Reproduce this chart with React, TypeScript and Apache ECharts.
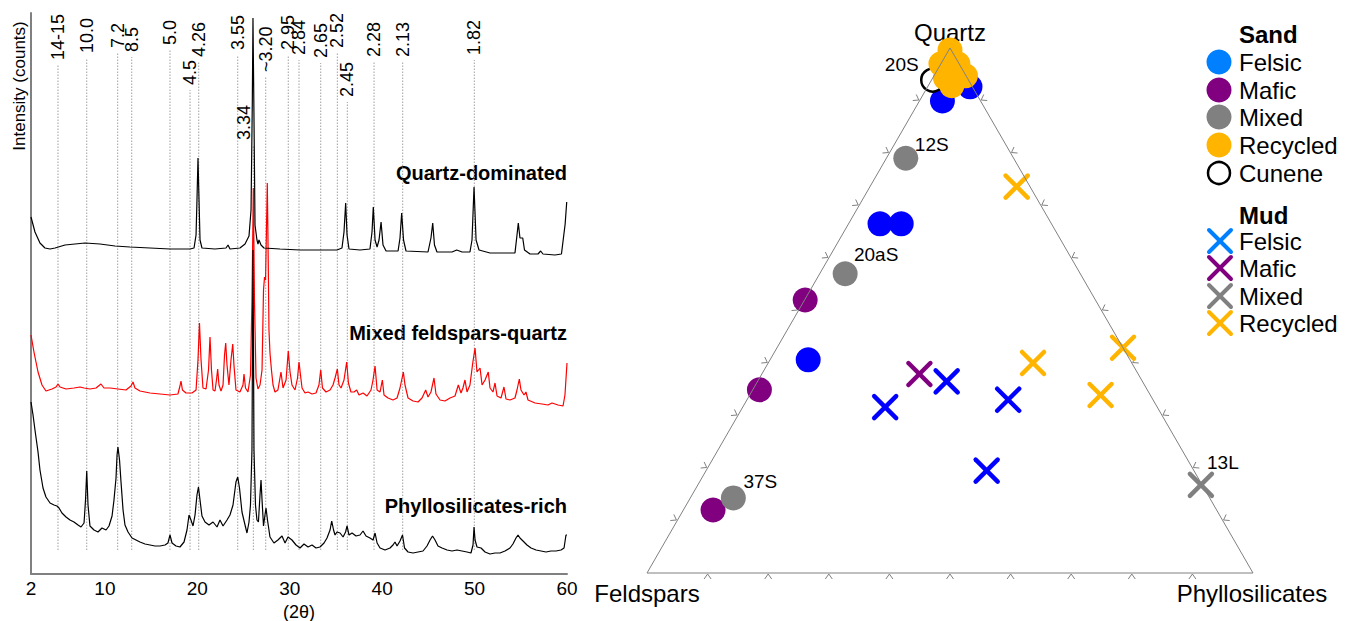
import React, { useEffect, useRef } from "react";
import * as echarts from "echarts";

const FONT = "'Liberation Sans', Arial, Helvetica, sans-serif";

// ---------------- XRD panel data ----------------
const XRD_TICKS = [2, 10, 20, 30, 40, 50, 60];

// [2θ, counts]
const QUARTZ_DOMINATED = [
  [2.0, 357], [2.43, 342], [2.97, 331], [3.51, 326], [4.06, 325], [4.6, 326], [5.68, 329], [6.76, 330], [7.84, 331],
  [9.47, 330], [11.09, 328], [12.71, 327], [14.88, 326], [17.04, 325], [19.21, 325], [19.64, 326], [19.86, 339],
  [19.96, 374], [20.07, 416], [20.18, 374], [20.29, 334], [20.5, 326], [21.91, 325], [23.1, 326], [23.32, 329],
  [23.53, 325], [24.61, 326], [25.16, 330], [25.59, 338], [25.81, 364], [25.95, 474], [26.02, 556], [26.11, 474],
  [26.24, 349], [26.45, 334], [26.56, 330], [26.67, 334], [26.89, 329], [27.21, 326], [28.94, 325], [31.11, 324],
  [33.27, 324], [35.11, 324], [35.65, 326], [35.87, 342], [36.05, 371], [36.2, 339], [36.41, 325], [37.6, 324],
  [38.68, 325], [38.9, 342], [39.04, 367], [39.23, 334], [39.45, 327], [39.66, 334], [39.88, 352], [40.09, 329],
  [40.42, 323], [41.72, 323], [41.93, 336], [42.11, 361], [42.31, 334], [42.58, 323], [44.96, 322], [45.28, 336],
  [45.47, 351], [45.66, 329], [45.93, 322], [47.56, 322], [48.07, 324], [48.64, 322], [49.5, 322], [49.72, 334],
  [49.94, 387], [50.16, 334], [50.48, 324], [51.67, 321], [53.29, 321], [54.37, 321], [54.59, 339], [54.73, 351],
  [54.91, 336], [55.21, 336], [55.4, 324], [56.0, 320], [56.86, 320], [57.15, 323], [57.4, 320], [58.7, 319],
  [59.4, 320], [59.6, 335], [59.8, 350], [59.97, 372],
];

const MIXED_FELDSPARS_QUARTZ = [
  [2.0, 239], [2.32, 222], [2.76, 202], [3.19, 189], [3.62, 183], [4.27, 185], [4.71, 187], [4.92, 190], [5.14, 187],
  [5.79, 185], [6.65, 186], [7.3, 187], [7.74, 186], [8.38, 185], [9.04, 186], [9.57, 190], [9.9, 186], [10.55, 186],
  [11.41, 185], [12.28, 184], [12.82, 188], [13.04, 192], [13.25, 186], [13.79, 183], [14.88, 181], [15.96, 180],
  [17.04, 179], [17.9, 180], [18.12, 188], [18.23, 193], [18.39, 184], [18.77, 181], [19.42, 181], [19.86, 184],
  [20.07, 214], [20.23, 251], [20.4, 214], [20.61, 186], [20.94, 185], [21.21, 204], [21.37, 237], [21.53, 204],
  [21.7, 184], [21.91, 183], [22.07, 194], [22.2, 205], [22.34, 189], [22.56, 183], [22.78, 189], [22.94, 219],
  [23.07, 231], [23.21, 209], [23.42, 189], [23.64, 214], [23.83, 230], [23.96, 209], [24.18, 184], [24.61, 182],
  [24.94, 189], [25.05, 200], [25.21, 186], [25.48, 182], [25.75, 199], [25.91, 274], [26.06, 386], [26.18, 274],
  [26.35, 196], [26.56, 185], [26.78, 189], [27.0, 204], [27.16, 284], [27.27, 297], [27.38, 294], [27.48, 344],
  [27.57, 391], [27.67, 314], [27.75, 244], [27.86, 221], [28.02, 204], [28.19, 189], [28.4, 182], [28.72, 184],
  [29.05, 202], [29.27, 186], [29.6, 194], [29.84, 223], [30.03, 202], [30.24, 189], [30.57, 184], [30.84, 196],
  [31.0, 212], [31.16, 199], [31.33, 186], [31.65, 181], [31.98, 182], [32.41, 180], [32.84, 181], [33.16, 189],
  [33.35, 204], [33.54, 186], [33.92, 182], [34.36, 184], [34.68, 189], [34.9, 196], [35.15, 205], [35.33, 189],
  [35.55, 186], [35.87, 194], [36.16, 212], [36.35, 191], [36.62, 182], [36.95, 182], [37.24, 184], [37.49, 179],
  [37.93, 181], [38.36, 178], [38.79, 184], [39.01, 194], [39.23, 208], [39.45, 184], [39.77, 182], [40.02, 194],
  [40.2, 179], [40.63, 176], [41.17, 174], [41.61, 176], [41.93, 186], [42.29, 202], [42.47, 189], [42.8, 176],
  [43.34, 173], [43.88, 172], [44.31, 176], [44.71, 184], [44.96, 177], [45.28, 182], [45.61, 196], [45.82, 180],
  [46.26, 174], [46.8, 173], [47.34, 176], [47.88, 178], [48.24, 189], [48.53, 181], [48.74, 186], [48.96, 194],
  [49.18, 182], [49.5, 189], [49.8, 211], [50.05, 226], [50.26, 202], [50.59, 206], [50.81, 189], [51.13, 194],
  [51.48, 202], [51.67, 186], [51.99, 182], [52.21, 191], [52.43, 178], [52.86, 176], [53.18, 187], [53.4, 175],
  [53.83, 174], [54.37, 176], [54.59, 184], [54.84, 195], [55.02, 184], [55.35, 179], [55.56, 182], [55.78, 174],
  [56.54, 171], [57.29, 170], [57.94, 169], [58.38, 171], [59.03, 169], [59.57, 168], [59.78, 179], [60.0, 211],
];

const PHYLLOSILICATES_RICH = [
  [2.0, 172], [2.22, 159], [2.43, 144], [2.76, 122], [2.97, 104], [3.3, 86], [3.62, 77], [4.06, 71], [4.49, 69],
  [4.81, 68], [5.03, 66], [5.35, 61], [5.79, 57], [6.22, 54], [6.65, 52], [7.09, 49], [7.41, 47], [7.74, 51],
  [7.9, 74], [8.03, 103], [8.17, 69], [8.38, 48], [8.82, 44], [9.25, 42], [9.68, 46], [10.12, 44], [10.44, 48],
  [10.77, 58], [10.98, 74], [11.2, 96], [11.31, 119], [11.41, 127], [11.58, 114], [11.74, 92], [11.96, 64],
  [12.17, 49], [12.5, 42], [12.93, 36], [13.36, 34], [13.79, 32], [14.34, 30], [14.88, 29], [15.42, 28], [15.96, 28],
  [16.5, 29], [16.82, 31], [17.04, 39], [17.26, 31], [17.69, 28], [18.12, 27], [18.56, 32], [18.88, 44], [19.1, 59],
  [19.31, 54], [19.53, 48], [19.75, 59], [19.96, 79], [20.12, 87], [20.29, 74], [20.5, 58], [20.83, 52], [21.26, 49],
  [21.7, 52], [22.13, 47], [22.45, 54], [22.78, 48], [23.21, 54], [23.53, 59], [23.86, 69], [24.18, 92], [24.37, 97],
  [24.56, 86], [24.83, 62], [25.16, 49], [25.37, 41], [25.59, 52], [25.75, 69], [25.91, 124], [26.02, 324],
  [26.13, 124], [26.29, 69], [26.45, 54], [26.61, 52], [26.78, 79], [26.89, 94], [27.0, 74], [27.16, 48], [27.32, 59],
  [27.43, 66], [27.59, 54], [27.86, 37], [28.29, 31], [28.72, 34], [29.16, 38], [29.49, 31], [29.81, 37], [30.24, 34],
  [30.68, 29], [31.11, 26], [31.54, 30], [31.98, 27], [32.41, 29], [32.84, 26], [33.27, 27], [33.71, 31], [34.03, 36],
  [34.36, 44], [34.54, 53], [34.74, 44], [34.9, 39], [35.11, 42], [35.44, 41], [35.77, 37], [36.04, 42], [36.2, 48],
  [36.41, 39], [36.74, 41], [37.17, 38], [37.6, 39], [37.93, 43], [38.25, 38], [38.68, 36], [39.01, 34], [39.23, 41],
  [39.45, 31], [39.77, 26], [40.31, 24], [40.85, 26], [41.17, 29], [41.39, 32], [41.61, 28], [41.93, 33], [42.2, 39],
  [42.42, 26], [42.8, 22], [43.34, 21], [43.88, 22], [44.42, 23], [44.85, 28], [45.18, 34], [45.45, 38], [45.72, 34],
  [46.04, 28], [46.48, 26], [47.02, 24], [47.56, 23], [48.1, 24], [48.64, 23], [49.18, 22], [49.61, 21], [49.83, 29],
  [49.94, 47], [50.05, 34], [50.26, 27], [50.7, 26], [51.13, 22], [51.67, 20], [52.21, 21], [52.75, 21], [53.29, 23],
  [53.83, 26], [54.15, 30], [54.48, 36], [54.7, 39], [54.91, 36], [55.24, 33], [55.67, 29], [56.11, 26], [56.65, 24],
  [57.19, 23], [57.73, 22], [58.27, 23], [58.81, 23], [59.35, 24], [59.68, 26], [59.89, 39], [60.0, 39],
];

// d-spacing reference lines (Å labels), their 2θ position and the count level where the label starts
const DSPACING_LABELS = ["14-15", "10.0", "7.2", "8.5", "5.0", "4.5", "4.26", "3.55", "3.34", "~3.20", "2.95", "2.84", "2.65", "2.52", "2.45", "2.28", "2.13", "1.82"];
const DSPACING_2THETA = [4.92, 8.03, 11.38, 12.9, 17.04, 19.21, 20.15, 24.37, 26.06, 27.4, 29.84, 31.0, 33.35, 35.15, 36.23, 39.12, 42.22, 49.97];
const DSPACING_LABEL_LEVEL = [514, 521, 526, 522, 529, 489, 517, 524, 434, 502, 524, 519, 516, 526, 477, 517, 517, 519];
const DSPACING_LINE_BOTTOM = 24;

const TRACE_NAMES = ["Quartz-dominated", "Mixed feldspars-quartz", "Phyllosilicates-rich"];

// ---------------- Ternary panel data: [Quartz, Feldspars, Phyllosilicates] % ----------------
const TERNARY_TICKS = [10, 20, 30, 40, 50, 60, 70, 80, 90];
const SAND_FELSIC = [[89.9, 6.3, 3.8], [92.6, 0.4, 7.0], [66.5, 28.3, 5.2], [66.5, 24.8, 8.7], [40.6, 53.1, 6.3]];
const SAND_MAFIC = [[52.0, 47.9, 0.1], [34.9, 64.0, 1.1], [12.0, 83.1, 4.9]];
const SAND_MIXED = [[79.0, 17.8, 3.2], [57.0, 38.8, 4.2], [14.3, 78.6, 7.1]];
const SAND_MIXED_NAMES = ["12S", "20aS", "37S"];
const SAND_RECYCLED = [[99.6, 0.2, 0.2], [97.0, 3.0, 0.0], [92.8, 3.3, 3.9], [94.7, 0.1, 5.2], [97.0, 0.2, 2.8], [94.3, 3.6, 2.1]];
const SAND_CUNENE = [[93.9, 5.9, 0.2]];
const SAND_CUNENE_NAMES = ["20S"];
const MUD_FELSIC = [[31.6, 44.9, 23.5], [36.5, 32.3, 31.2], [33.0, 23.9, 43.1], [19.5, 34.2, 46.3]];
const MUD_MAFIC = [[37.9, 36.1, 26.0]];
const MUD_MIXED = [[16.8, 0.2, 83.0]];
const MUD_MIXED_NAMES = ["13L"];
const MUD_RECYCLED = [[73.6, 2.2, 24.2], [40.0, 16.3, 43.7], [42.9, 0.0, 57.1], [33.9, 8.2, 57.9]];

const LEGEND_SAND = ["Felsic", "Mafic", "Mixed", "Recycled", "Cunene"];
const LEGEND_MUD = ["Felsic", "Mafic", "Mixed", "Recycled"];

const S = Math.sqrt(3) / 2;
function toXY(c: number[]): number[] {
  const [q, f, p] = c;
  const t = q + f + p;
  return [(p + q / 2) / t, (q / t) * S];
}

const BLUE = "#0000FF";
const LIGHT_BLUE = "#0080FF";
const PURPLE = "#800080";
const GRAY = "#808080";
const ORANGE = "#FFB400";

function App() {
  const ref = useRef<HTMLDivElement>(null);

  useEffect(() => {
    if (!ref.current) return;
    const chart = echarts.init(ref.current, null, { renderer: "svg" });

    const sandSeries = (data: number[][], color: string, names?: string[], offsets?: number[][], hollow?: boolean) => ({
      type: "scatter",
      xAxisIndex: 1,
      yAxisIndex: 1,
      symbol: "circle",
      symbolSize: hollow ? 23 : 25,
      silent: true,
      itemStyle: hollow
        ? { color: "rgba(0,0,0,0)", borderColor: "#000", borderWidth: 2.5, opacity: 1 }
        : { color, opacity: 1 },
      emphasis: { disabled: true },
      data: data.map((d, i) =>
        names && names[i]
          ? {
              value: toXY(d),
              label: {
                show: true,
                formatter: names[i],
                position: "inside",
                offset: offsets ? offsets[i] : [0, 0],
                color: "#000",
                fontSize: 19,
                fontFamily: FONT,
              },
            }
          : toXY(d)
      ),
    });

    const mudSeries = (data: number[][], color: string, names?: string[], offsets?: number[][]) => ({
      type: "custom",
      xAxisIndex: 1,
      yAxisIndex: 1,
      silent: true,
      data: data.map((d) => toXY(d)),
      encode: { x: 0, y: 1 },
      renderItem: (params: any, api: any) => {
        const c = api.coord([api.value(0), api.value(1)]);
        const h = 11;
        const children: any[] = [
          { type: "line", shape: { x1: c[0] - h, y1: c[1] - h, x2: c[0] + h, y2: c[1] + h }, style: { stroke: color, lineWidth: 4.5, lineCap: "round" } },
          { type: "line", shape: { x1: c[0] - h, y1: c[1] + h, x2: c[0] + h, y2: c[1] - h }, style: { stroke: color, lineWidth: 4.5, lineCap: "round" } },
        ];
        const i = params.dataIndex;
        if (names && names[i]) {
          const o = offsets ? offsets[i] : [0, 0];
          children.push({
            type: "text",
            x: c[0] + o[0],
            y: c[1] + o[1],
            style: { text: names[i], fill: "#000", fontSize: 19, fontFamily: FONT, align: "center", verticalAlign: "middle", textAlign: "center", textVerticalAlign: "middle" },
          });
        }
        return { type: "group", children };
      },
    });

    const tickData: number[][] = [];
    [0, 1, 2].forEach((e) => TERNARY_TICKS.forEach((t) => tickData.push([e, t])));

    const legendGraphics: any[] = [];
    const txt = (x: number, y: number, text: string, bold = false) => ({
      type: "text",
      x,
      y,
      silent: true,
      style: { text, fill: "#000", fontSize: 24, fontWeight: bold ? "bold" : "normal", fontFamily: FONT, align: "left", verticalAlign: "middle", textAlign: "left", textVerticalAlign: "middle" },
    });
    legendGraphics.push(txt(1239, 34, "Sand", true));
    const sandRows = [62, 90, 117, 145, 173];
    const sandColors = [LIGHT_BLUE, PURPLE, GRAY, ORANGE];
    LEGEND_SAND.forEach((name, i) => {
      const y = sandRows[i];
      if (i < 4) {
        legendGraphics.push({ type: "circle", silent: true, shape: { cx: 1219, cy: y, r: 12.5 }, style: { fill: sandColors[i] } });
      } else {
        legendGraphics.push({ type: "circle", silent: true, shape: { cx: 1219, cy: y, r: 11 }, style: { fill: "none", stroke: "#000", lineWidth: 2.5 } });
      }
      legendGraphics.push(txt(1239, y, name));
    });
    legendGraphics.push(txt(1239, 215, "Mud", true));
    const mudRows = [241, 268, 296, 323];
    const mudColors = [LIGHT_BLUE, PURPLE, GRAY, ORANGE];
    LEGEND_MUD.forEach((name, i) => {
      const y = mudRows[i];
      const h = 11;
      legendGraphics.push({ type: "line", silent: true, shape: { x1: 1220 - h, y1: y - h, x2: 1220 + h, y2: y + h }, style: { stroke: mudColors[i], lineWidth: 4, lineCap: "round" } });
      legendGraphics.push({ type: "line", silent: true, shape: { x1: 1220 - h, y1: y + h, x2: 1220 + h, y2: y - h }, style: { stroke: mudColors[i], lineWidth: 4, lineCap: "round" } });
      legendGraphics.push(txt(1239, y, name));
    });

    const centerText = (x: number, y: number, text: string, size: number, extra: any = {}) => ({
      type: "text",
      x,
      y,
      silent: true,
      ...extra,
      style: { text, fill: "#000", fontSize: size, fontFamily: FONT, align: "center", verticalAlign: "middle", textAlign: "center", textVerticalAlign: "middle", ...(extra.style || {}) },
    });

    const option: any = {
      animation: false,
      backgroundColor: "#ffffff",
      textStyle: { fontFamily: FONT },
      grid: [
        { left: 31, top: 13, right: 788, bottom: 47, outerBoundsMode: "none", containLabel: false },
        { left: 647, top: 48, right: 102, bottom: 48, outerBoundsMode: "none", containLabel: false },
      ],
      xAxis: [
        {
          type: "value",
          gridIndex: 0,
          min: 2,
          max: 60,
          name: "(2θ)",
          nameLocation: "middle",
          nameGap: 22,
          nameTextStyle: { fontSize: 18, color: "#000", fontFamily: FONT },
          axisLine: { show: true, onZero: false, lineStyle: { color: GRAY, width: 2 } },
          axisTick: { show: false },
          axisLabel: { customValues: XRD_TICKS, fontSize: 19, color: "#000", margin: 5, fontFamily: FONT },
          splitLine: { show: false },
        },
        { type: "value", gridIndex: 1, min: 0, max: 1, show: false },
      ],
      yAxis: [
        {
          type: "value",
          gridIndex: 0,
          min: 0,
          max: 561,
          axisLine: { show: true, onZero: false, lineStyle: { color: GRAY, width: 2 } },
          axisTick: { show: false },
          axisLabel: { show: false },
          splitLine: { show: false },
        },
        { type: "value", gridIndex: 1, min: 0, max: S, show: false },
      ],
      series: [
        // d-spacing dotted guides and labels
        {
          type: "custom",
          xAxisIndex: 0,
          yAxisIndex: 0,
          silent: true,
          z: 1,
          data: DSPACING_2THETA.map((t, i) => [t, DSPACING_LABEL_LEVEL[i]]),
          encode: { x: 0, y: 1 },
          renderItem: (params: any, api: any) => {
            const i = params.dataIndex;
            const x = api.value(0);
            const lvl = api.value(1);
            const p0 = api.coord([x, DSPACING_LINE_BOTTOM]);
            const p1 = api.coord([x, lvl - 5]);
            const pl = api.coord([x, lvl]);
            const shift = DSPACING_LABELS[i] === "3.34" ? -9 : 0;
            return {
              type: "group",
              children: [
                { type: "line", shape: { x1: p0[0], y1: p0[1], x2: p1[0], y2: p1[1] }, style: { stroke: "#a0a0a0", lineWidth: 1, lineDash: [1.5, 1.5] } },
                {
                  type: "text",
                  x: pl[0] + shift,
                  y: pl[1],
                  rotation: Math.PI / 2,
                  style: { text: DSPACING_LABELS[i], fill: "#000", fontSize: 18, fontFamily: FONT, align: "left", verticalAlign: "middle", textAlign: "left", textVerticalAlign: "middle" },
                },
              ],
            };
          },
        },
        { type: "line", name: TRACE_NAMES[1], xAxisIndex: 0, yAxisIndex: 0, data: MIXED_FELDSPARS_QUARTZ, showSymbol: false, symbol: "none", silent: true, z: 3, lineStyle: { color: "#FF0000", width: 1.2 } },
        { type: "line", name: TRACE_NAMES[2], xAxisIndex: 0, yAxisIndex: 0, data: PHYLLOSILICATES_RICH, showSymbol: false, symbol: "none", silent: true, z: 3, lineStyle: { color: "#000", width: 1.2 } },
        { type: "line", name: TRACE_NAMES[0], xAxisIndex: 0, yAxisIndex: 0, data: QUARTZ_DOMINATED, showSymbol: false, symbol: "none", silent: true, z: 3, lineStyle: { color: "#000", width: 1.2 } },

        // ternary outline
        {
          type: "line",
          xAxisIndex: 1,
          yAxisIndex: 1,
          data: [[0, 0], [1, 0], [0.5, S], [0, 0]],
          showSymbol: false,
          symbol: "none",
          silent: true,
          clip: false,
          lineStyle: { color: GRAY, width: 1 },
        },
        // ternary ticks
        {
          type: "custom",
          xAxisIndex: 1,
          yAxisIndex: 1,
          silent: true,
          data: tickData,
          renderItem: (params: any, api: any) => {
            const edge = api.value(0);
            const t = api.value(1) / 100;
            let pt: number[];
            let n: number[];
            if (edge === 0) {
              pt = [t, 0];
              n = [0, 1];
            } else if (edge === 1) {
              pt = [t / 2, t * S];
              n = [-S, -0.5];
            } else {
              pt = [1 - t / 2, t * S];
              n = [S, -0.5];
            }
            const c = api.coord(pt);
            const d = [-n[1], n[0]];
            const tip = [c[0] + n[0] * 1, c[1] + n[1] * 1];
            const a = [c[0] + n[0] * 6 + d[0] * 3.5, c[1] + n[1] * 6 + d[1] * 3.5];
            const b = [c[0] + n[0] * 6 - d[0] * 3.5, c[1] + n[1] * 6 - d[1] * 3.5];
            return { type: "polyline", shape: { points: [a, tip, b] }, style: { stroke: GRAY, lineWidth: 1, fill: "none" } };
          },
        },
        mudSeries(MUD_FELSIC, BLUE),
        mudSeries(MUD_MAFIC, PURPLE),
        mudSeries(MUD_MIXED, GRAY, MUD_MIXED_NAMES, [[22, -22]]),
        mudSeries(MUD_RECYCLED, ORANGE),
        sandSeries(SAND_FELSIC, BLUE),
        sandSeries(SAND_MAFIC, PURPLE),
        sandSeries(SAND_MIXED, GRAY, SAND_MIXED_NAMES, [[26, -14], [31, -19], [27, -16]]),
        sandSeries(SAND_CUNENE, "#000", SAND_CUNENE_NAMES, [[-31, -16]], true),
        sandSeries(SAND_RECYCLED, ORANGE),
      ],
      graphic: [
        // XRD texts
        centerText(19, 86, "Intensity (counts)", 17, { rotation: Math.PI / 2 }),
        { type: "text", x: 567, y: 173, silent: true, style: { text: TRACE_NAMES[0], fill: "#000", fontSize: 20, fontWeight: "bold", fontFamily: FONT, align: "right", verticalAlign: "middle", textAlign: "right", textVerticalAlign: "middle" } },
        { type: "text", x: 567, y: 333, silent: true, style: { text: TRACE_NAMES[1], fill: "#000", fontSize: 20, fontWeight: "bold", fontFamily: FONT, align: "right", verticalAlign: "middle", textAlign: "right", textVerticalAlign: "middle" } },
        { type: "text", x: 567, y: 506, silent: true, style: { text: TRACE_NAMES[2], fill: "#000", fontSize: 20, fontWeight: "bold", fontFamily: FONT, align: "right", verticalAlign: "middle", textAlign: "right", textVerticalAlign: "middle" } },
        // ternary vertices
        centerText(950, 32, "Quartz", 24),
        centerText(647, 593, "Feldspars", 24),
        centerText(1252, 593, "Phyllosilicates", 24),
        ...legendGraphics,
      ],
    };

    chart.setOption(option);
    return () => {
      chart.dispose();
    };
  }, []);

  return (
    <div
      ref={ref}
      style={{ position: "fixed", left: 0, top: 0, width: 1355, height: 621, background: "#fff" }}
    />
  );
}

export default App;
